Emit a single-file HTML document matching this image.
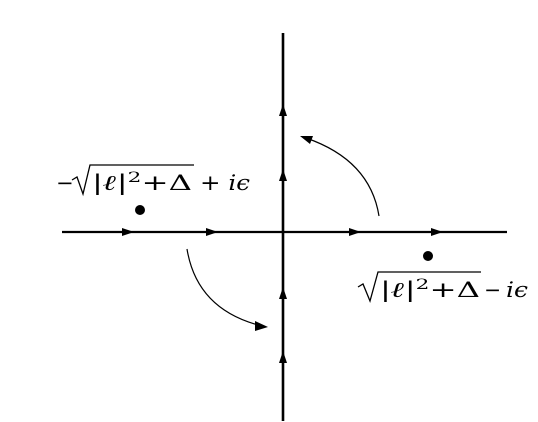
<!DOCTYPE html>
<html><head><meta charset="utf-8"><style>
html,body{margin:0;padding:0;background:#fff;}
svg{display:block;}
</style></head><body>
<svg id="c" width="538" height="422" viewBox="0 0 538 422">
<line x1="62" y1="232" x2="507" y2="232" stroke="#000" stroke-width="2.2"/>
<line x1="283" y1="33" x2="283" y2="421" stroke="#000" stroke-width="2.6"/>
<g id="arrows"></g>
<path d="M379,216 Q370,160 306,138" fill="none" stroke="#000" stroke-width="1.2"/>
<polygon points="300,136 313,136 310,144" fill="#000"/>
<path d="M187,249 Q197,310 262,326" fill="none" stroke="#000" stroke-width="1.2"/>
<polygon points="268,327 255,321 255,331" fill="#000"/>
<g id="poles"></g>
<g font-family="'DejaVu Serif','Liberation Serif',serif" font-size="21">
<text x="56" y="190" font-size="21">−</text>
<path d="M72,180 L77,177 L83,194 L90,165 L194,165" fill="none" stroke="#000" stroke-width="1.3"/>
<text x="92" y="190" font-size="21" textLength="100" lengthAdjust="spacingAndGlyphs">|<tspan font-style="italic" font-weight="bold">ℓ</tspan>|<tspan dy="-8" font-size="14">2</tspan><tspan dy="8">+Δ</tspan></text>
<text x="200" y="190" font-size="21" textLength="50" lengthAdjust="spacingAndGlyphs">+ <tspan font-style="italic">iϵ</tspan></text>
</g>
<g font-family="'DejaVu Serif','Liberation Serif',serif" font-size="21">
<path d="M358,287 L363,284 L370,301 L378,272 L481,272" fill="none" stroke="#000" stroke-width="1.3"/>
<text x="380" y="297" font-size="21" textLength="100" lengthAdjust="spacingAndGlyphs">|<tspan font-style="italic" font-weight="bold">ℓ</tspan>|<tspan dy="-8" font-size="14">2</tspan><tspan dy="8">+Δ</tspan></text>
<text x="484" y="297" font-size="21" textLength="17" lengthAdjust="spacingAndGlyphs">−</text>
<text x="506" y="297" font-size="21" font-style="italic" textLength="22" lengthAdjust="spacingAndGlyphs">iϵ</text>
</g>
</svg>
<script>
const poleX = [140, 428];
const poleY = [210, 256];
const poleNames = ['pole-upper-left', 'pole-lower-right'];
const hArrowX = [128, 212, 355, 437];
const vArrowY = [110, 175, 293, 357];
const NS = 'http://www.w3.org/2000/svg';
const pg = document.getElementById('poles');
for (let i = 0; i < poleX.length; i++) {
  const c = document.createElementNS(NS, 'circle');
  c.setAttribute('cx', poleX[i]); c.setAttribute('cy', poleY[i]); c.setAttribute('r', 5);
  c.setAttribute('fill', '#000');
  
  
  pg.appendChild(c);
}
const ag = document.getElementById('arrows');
hArrowX.forEach(x => {
  const p = document.createElementNS(NS, 'polygon');
  p.setAttribute('points', `${x+6},232 ${x-6},228 ${x-6},236`);
  
  
  ag.appendChild(p);
});
vArrowY.forEach(y => {
  const p = document.createElementNS(NS, 'polygon');
  p.setAttribute('points', `283,${y-6} 279,${y+6} 287,${y+6}`);
  
  
  ag.appendChild(p);
});
</script>
</body></html>
